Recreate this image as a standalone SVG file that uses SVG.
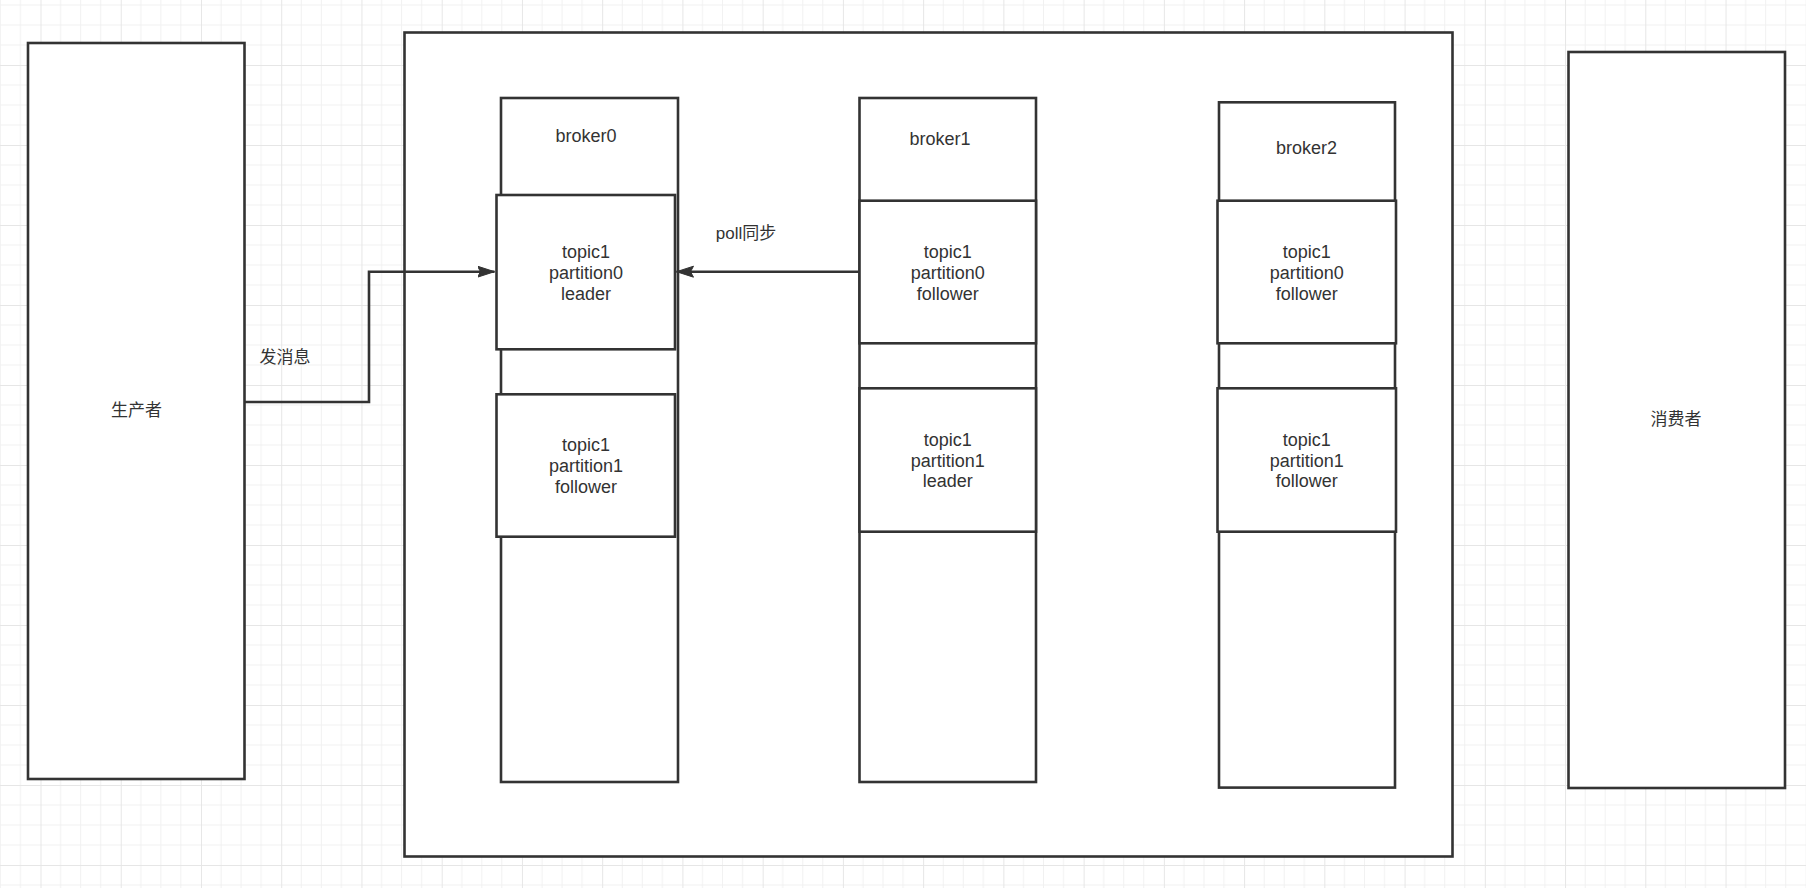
<svg xmlns="http://www.w3.org/2000/svg" width="1806" height="888" viewBox="0 0 1806 888">
<style>
.box{fill:#fff;stroke:#333;stroke-width:2.6}
.t{font-family:"Liberation Sans",Arial,sans-serif;font-size:18px;fill:#333;text-anchor:middle;dominant-baseline:central}
.c{font-family:"Liberation Sans","Noto Sans CJK SC",sans-serif;font-size:17px;fill:#333;text-anchor:middle;dominant-baseline:central}
.edge{fill:none;stroke:#333;stroke-width:2.6}
</style>
<defs>
<pattern id="grid" patternUnits="userSpaceOnUse" x="40.5" y="65" width="80.24" height="80">
<path d="M20.06,0V80M40.12,0V80M60.18,0V80M0,20H80.24M0,40H80.24M0,60H80.24" stroke="#f1f1f1" stroke-width="1" fill="none"/>
<path d="M0.5,0V80M0,0.5H80.24" stroke="#e6e6e6" stroke-width="1" fill="none"/>
</pattern>
<marker id="arr" markerUnits="userSpaceOnUse" markerWidth="20" markerHeight="14" refX="17" refY="6" orient="auto">
<path d="M0,0.5 L17,6 L0,11.5 L3,6 Z" fill="#333" stroke="#333" stroke-width="1"/>
</marker>
</defs>
<rect width="1806" height="888" fill="#fff"/>
<rect width="1806" height="888" fill="url(#grid)"/>

<g id="producer">
<rect class="box" x="28" y="43" width="216.5" height="736"/>
<text class="c" x="136.5" y="410">生产者</text>
</g>

<g id="cluster">
<rect class="box" x="404.5" y="32.5" width="1048" height="824"/>
</g>

<g id="consumer">
<rect class="box" x="1568.5" y="52" width="216.5" height="736"/>
<text class="c" x="1676" y="419">消费者</text>
</g>

<g id="broker0">
<rect class="box" x="501" y="98" width="177" height="684"/>
<text class="t" x="586" y="136">broker0</text>
</g>
<g id="b0p0">
<rect class="box" x="496.5" y="195" width="178.5" height="154.3"/>
<text class="t" x="586" y="251.5">topic1</text>
<text class="t" x="586" y="272.5">partition0</text>
<text class="t" x="586" y="293.5">leader</text>
</g>
<g id="b0p1">
<rect class="box" x="496.5" y="394.3" width="178.5" height="142.4"/>
<text class="t" x="586" y="445">topic1</text>
<text class="t" x="586" y="466">partition1</text>
<text class="t" x="586" y="487">follower</text>
</g>

<g id="broker1">
<rect class="box" x="859.5" y="98" width="176.5" height="684"/>
<text class="t" x="940" y="138.7">broker1</text>
</g>
<g id="b1p0">
<rect class="box" x="859.5" y="200.7" width="176.5" height="142.6"/>
<text class="t" x="947.75" y="251.5">topic1</text>
<text class="t" x="947.75" y="272.5">partition0</text>
<text class="t" x="947.75" y="293.5">follower</text>
</g>
<g id="b1p1">
<rect class="box" x="859.5" y="388.3" width="176.5" height="143.4"/>
<text class="t" x="947.75" y="439.5">topic1</text>
<text class="t" x="947.75" y="460.5">partition1</text>
<text class="t" x="947.75" y="481">leader</text>
</g>

<g id="broker2">
<rect class="box" x="1219" y="102.3" width="176" height="685.3"/>
<text class="t" x="1306.5" y="147.7">broker2</text>
</g>
<g id="b2p0">
<rect class="box" x="1217.5" y="200.7" width="178.5" height="142.6"/>
<text class="t" x="1306.75" y="251.5">topic1</text>
<text class="t" x="1306.75" y="272.5">partition0</text>
<text class="t" x="1306.75" y="293.5">follower</text>
</g>
<g id="b2p1">
<rect class="box" x="1217.5" y="388.3" width="178.5" height="143.4"/>
<text class="t" x="1306.75" y="439.5">topic1</text>
<text class="t" x="1306.75" y="460.5">partition1</text>
<text class="t" x="1306.75" y="481">follower</text>
</g>

<g id="connectors">
<path class="edge" d="M244.5,402 H369 V271.7 H494.5" marker-end="url(#arr)"/>
<text class="c" x="285" y="357">发消息</text>
<path class="edge" d="M859.5,271.7 H676.5" marker-end="url(#arr)"/>
<text class="c" x="746" y="233">poll同步</text>
</g>
</svg>
